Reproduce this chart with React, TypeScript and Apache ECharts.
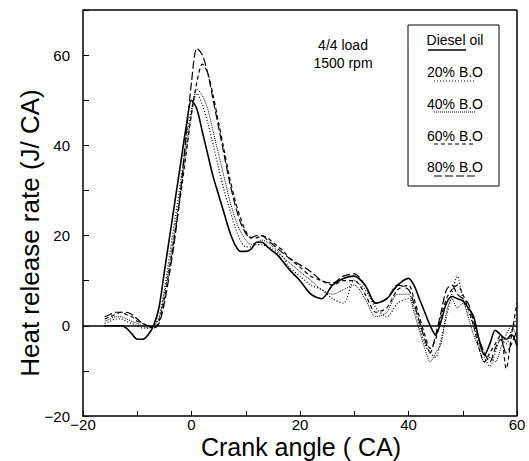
import React, { useEffect, useRef } from "react";
import * as echarts from "echarts";

const crankAngle = [-16,-15,-14,-13,-12,-11,-10,-9,-8,-7,-6,-5,-4,-3,-2,-1,0,1,2,3,4,5,6,7,8,9,10,11,12,13,14,15,16,17,18,20,22,24,26,28,30,32,34,36,38,40,41,42,43,44,45,46,47,48,49,50,51,52,53,54,55,56,57,58,59,60];

const diesel = [0,0,0,0,-0.5,-1.8,-3,-3,-2,0,4,12,20,28,36,44,50,48,43,38,33,29,25,21,18,16.5,16.5,17,18.5,18.5,17.5,16.5,15.5,14,12.5,10,7,6,9,10.5,11,9,5,6,9,10.5,9,6,3,0,-2,1,5,6.5,6,5.5,4,2,-3,-6.5,-4,-1,-2,-3,-2,-4.5];
const bo20 = [0.5,1,1.5,1.5,1,0.5,0,-0.5,-0.5,0,2,8,16,24,32,41,48,51.5,49,45,40,35,30,26,22,19,17.5,17.5,18,18,17.5,17,16,15,13,11,9,8,6,5,10,8,4,2,5,6,4,0,-4,-6,-7,-3,2,7,11,6,3,0,-4,-7,-9,-6,-3,-4,-1,2];
const bo40 = [1,1.5,2,2,1.5,1,0.5,0,-0.5,0,1.5,7,14,22,30,39,47,52.5,51,48,43,38,33,28,24,21,19,18,18.5,19,18.5,17.5,16.5,15,14,12,10,8,7,8,9,6,2,3,7,7,3,-1,-5,-8,-6,-4,3,6,4,5,2,-2,-5,-8,-7,-8,-5,-2,0,-3];
const bo60 = [1.5,2,2.5,3,2.5,2,1,0.5,0,-0.5,1,6,13,21,29,38,47,54,58,56,51,45,39,33,28,24,21,19.5,19.5,20,19.5,18.5,17.5,16.5,15,13,11,10,9,10,10,7,3,4,8,9,6,2,-2,-5,-3,2,6,8,9,7,4,0,-5,-8,-6,-4,-2,-9.5,-2,5];
const bo80 = [2,2.5,3,3,3,2.5,1.5,0.5,0,-0.5,0.5,5,12,20,30,42,54,61.5,60,56,50,44,38,32,27,23,20.5,19.5,20,20,19,18,17,16,15,13.5,12,10,9.5,11,11.5,9,5,6,9,8,5,1,-3,-6,-2,3,8,9,7,6,5,1,-3,-6,-8,-5,-3,-6,-4,-1];

const seriesNames = ["Diesel oil", "20% B.O", "40% B.O", "60% B.O", "80% B.O"];
const xTicks = [-20, 0, 20, 40, 60];
const yTicks = [-20, 0, 20, 40, 60];

const FONT = "Liberation Sans, Arial, sans-serif";

const lineStyles: any[] = [
  { type: "solid", width: 1.6 },
  { type: [1, 2], width: 1.2 },
  { type: [1, 1], width: 1 },
  { type: [4, 3], width: 1.2 },
  { type: [8, 3], width: 1.2 },
];

export default function App() {
  const ref = useRef<HTMLDivElement>(null);
  useEffect(() => {
    const chart = echarts.init(ref.current!, null, { renderer: "svg" });
    const all = [diesel, bo20, bo40, bo60, bo80];
    const series: any[] = all.map((vals, i) => ({
      name: seriesNames[i],
      type: "line",
      data: crankAngle.map((x, j) => [x, vals[j]]),
      showSymbol: false,
      smooth: 0.3,
      lineStyle: { color: "#000", ...lineStyles[i] },
      z: 3,
    }));
    series[0].markLine = {
      silent: true,
      symbol: "none",
      label: { show: false },
      lineStyle: { color: "#000", type: "solid", width: 1.6 },
      data: [{ yAxis: 0 }],
    };

    const legendTop = [40, 72, 104, 136, 167];
    const underline = [50, 81, 112, 144, 176];
    const legendGraphics: any[] = [
      {
        type: "rect",
        shape: { x: 408, y: 25, width: 91, height: 161 },
        style: { fill: "#fff", stroke: "#000", lineWidth: 1 },
        z: 10,
      },
      {
        type: "text",
        x: 343, y: 45,
        style: { text: "4/4 load", font: `14px ${FONT}`, fill: "#000", align: "center", verticalAlign: "middle" },
        z: 10,
      },
      {
        type: "text",
        x: 343, y: 63,
        style: { text: "1500 rpm", font: `14px ${FONT}`, fill: "#000", align: "center", verticalAlign: "middle" },
        z: 10,
      },
      {
        type: "text",
        x: 30, y: 233,
        rotation: Math.PI / 2,
        style: { text: "Heat release rate (J/ CA)", font: `26px ${FONT}`, fill: "#000", align: "center", verticalAlign: "middle" },
        z: 10,
      },
      {
        type: "text",
        x: 301, y: 447,
        style: { text: "Crank angle ( CA)", font: `25px ${FONT}`, lineHeight: 26, fill: "#000", align: "center", verticalAlign: "middle" },
        z: 10,
      },
    ];
    seriesNames.forEach((n, i) => {
      legendGraphics.push({
        type: "text",
        x: 455, y: legendTop[i],
        style: { text: n, font: `14px ${FONT}`, fill: "#000", align: "center", verticalAlign: "middle" },
        z: 11,
      });
      legendGraphics.push({
        type: "line",
        shape: { x1: i === 0 ? 428 : 434, y1: underline[i], x2: i === 0 ? 466 : 476, y2: underline[i] },
        style: { stroke: "#000", lineWidth: lineStyles[i].width, lineDash: lineStyles[i].type === "solid" ? null : lineStyles[i].type },
        z: 11,
      });
    });

    chart.setOption({
      animation: false,
      backgroundColor: "#fff",
      grid: { left: 83, right: 12, top: 10, bottom: 45, show: false, containLabel: false, outerBoundsMode: "none" },
      xAxis: {
        type: "value",
        min: -20, max: 60, interval: 10,
        axisLine: { show: true, onZero: false, lineStyle: { color: "#000", width: 1.5 } },
        axisTick: { show: true, inside: true, length: 5, lineStyle: { color: "#000" } },
        axisLabel: {
          fontFamily: FONT, fontSize: 15, lineHeight: 15, color: "#000", margin: 1,
          formatter: (v: number) => (xTicks.includes(v) ? (v < 0 ? "\u2212" + Math.abs(v) : String(v)) : ""),
        },
        splitLine: { show: false },
      },
      yAxis: {
        type: "value",
        min: -20, max: 70, interval: 10,
        axisLine: { show: true, onZero: false, lineStyle: { color: "#000", width: 1.5 } },
        axisTick: { show: true, inside: true, length: 6, lineStyle: { color: "#000" } },
        axisLabel: {
          fontFamily: FONT, fontSize: 15, color: "#000", margin: 13,
          formatter: (v: number) => (yTicks.includes(v) ? (v < 0 ? "\u2212" + Math.abs(v) : String(v)) : ""),
        },
        splitLine: { show: false },
      },
      series: [
        ...series,
        {
          type: "line",
          data: [],
          markLine: {
            silent: true, symbol: "none", label: { show: false },
            lineStyle: { color: "#000", type: "solid", width: 1.5 },
            data: [{ yAxis: 70 }, { xAxis: 60 }],
          },
        },
      ],
      graphic: legendGraphics,
    });
    return () => chart.dispose();
  }, []);
  return <div ref={ref} style={{ width: 529, height: 461, position: "absolute", left: 0, top: 0 }} />;
}
